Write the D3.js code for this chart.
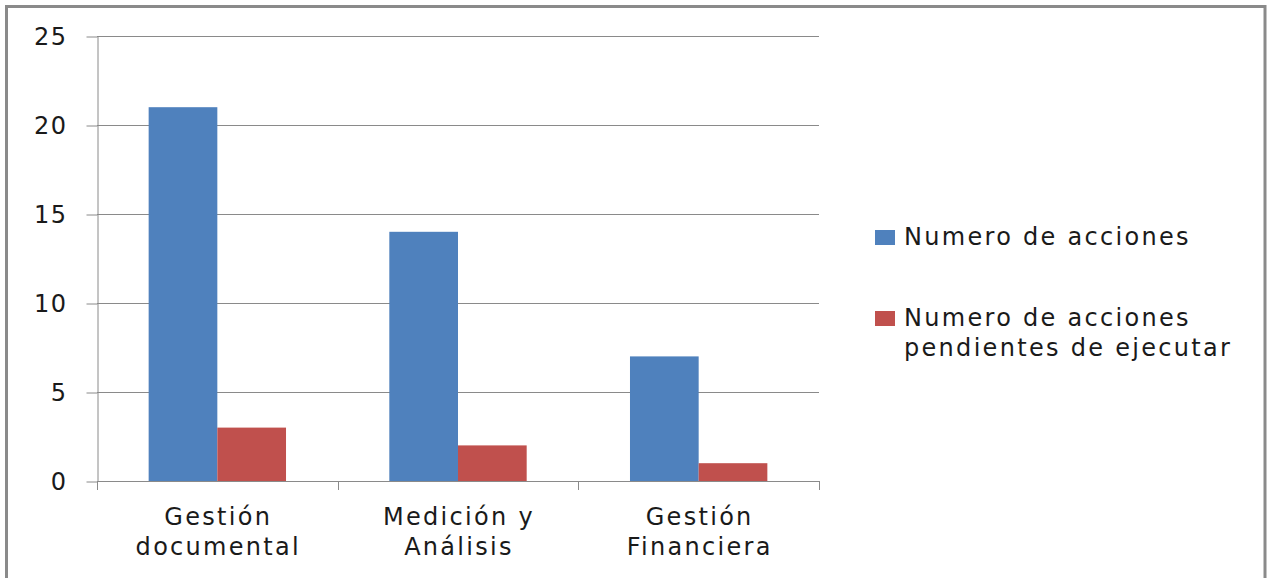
<!DOCTYPE html>
<html>
<head>
<meta charset="utf-8">
<script src="https://cdn.jsdelivr.net/npm/d3@7"></script>
<style>
  html, body { margin: 0; padding: 0; background: #fff; }
  svg { display: block; }
  text { font-family: "DejaVu Sans", sans-serif; fill: #1a1a1a; }
</style>
</head>
<body>
<script>
// Categories and series
const categories = [["Gestión", "documental"], ["Medición y", "Análisis"], ["Gestión", "Financiera"]];
const seriesNames = [["Numero de acciones"], ["Numero de acciones", "pendientes de ejecutar"]];
const seriesColors = ["#4F81BD", "#C0504D"];
const totalActions = [21, 14, 7];
const pendingActions = [3, 2, 1];
const yTicks = [0, 5, 10, 15, 20, 25];

const W = 1268, H = 578;
const svg = d3.select("body").append("svg").attr("width", W).attr("height", H);

// Outer chart frame (bottom edge lies below the visible area)
svg.append("rect")
  .attr("x", 6.5).attr("y", 6.5)
  .attr("width", 1258.5).attr("height", 600)
  .attr("fill", "#fff").attr("stroke", "#8a8a8a").attr("stroke-width", 3);

const plot = { left: 97, right: 819, top: 36, bottom: 481 };

const x0 = d3.scaleBand()
  .domain(d3.range(categories.length))
  .range([plot.left, plot.right])
  .paddingInner(0).paddingOuter(0);

const x1 = d3.scaleBand()
  .domain([0, 1])
  .range([0, x0.bandwidth()])
  .paddingOuter(0.752)
  .paddingInner(0);

const y = d3.scaleLinear().domain([0, 25]).range([plot.bottom, plot.top]);

const gridColor = "#8a8a8a";
const labelStyle = sel => sel
  .attr("font-size", 24)
  .style("letter-spacing", "2.3px")
  .style("font-family", "'DejaVu Sans', sans-serif")
  .style("fill", "#1a1a1a");

// Horizontal gridlines
svg.append("g").selectAll("line").data(yTicks.filter(d => d > 0)).join("line")
  .attr("x1", plot.left).attr("x2", plot.right)
  .attr("y1", d => Math.round(y(d)) + 0.5).attr("y2", d => Math.round(y(d)) + 0.5)
  .attr("stroke", gridColor).attr("stroke-width", 1);

// Bars
const series = [totalActions, pendingActions];
series.forEach((vals, si) => {
  svg.append("g").selectAll("rect").data(vals).join("rect")
    .attr("x", (d, i) => x0(i) + x1(si))
    .attr("width", x1.bandwidth())
    .attr("y", d => y(d))
    .attr("height", d => y(0) - y(d))
    .attr("fill", seriesColors[si]);
});

// Y axis
const yAxis = d3.axisLeft(y).tickValues(yTicks).tickSize(11).tickPadding(19).tickSizeOuter(0);
const gy = svg.append("g").attr("transform", `translate(${plot.left + 0.5},0)`).call(yAxis);
gy.select(".domain").attr("stroke", gridColor);
gy.selectAll(".tick line").attr("stroke", gridColor).attr("transform", "translate(0,0.5)");
gy.selectAll(".tick text").call(labelStyle).style("letter-spacing", "1.5px").attr("dy", "0.36em");

// X axis with category boundary ticks
svg.append("line")
  .attr("x1", plot.left).attr("x2", plot.right)
  .attr("y1", plot.bottom + 0.5).attr("y2", plot.bottom + 0.5)
  .attr("stroke", gridColor);
const bounds = d3.range(categories.length + 1).map(i => i < categories.length ? x0(i) : plot.right);
svg.append("g").selectAll("line").data(bounds).join("line")
  .attr("x1", d => Math.round(d) + 0.5).attr("x2", d => Math.round(d) + 0.5)
  .attr("y1", plot.bottom).attr("y2", plot.bottom + 9)
  .attr("stroke", gridColor);

// Category labels
const catG = svg.append("g");
categories.forEach((lines, i) => {
  const cx = x0(i) + x0.bandwidth() / 2 + 1;
  const t = catG.append("text")
    .attr("x", cx).attr("y", 525)
    .attr("text-anchor", "middle")
    .call(labelStyle);
  lines.forEach((ln, j) => {
    t.append("tspan").attr("x", cx).attr("dy", j === 0 ? 0 : 30).text(ln);
  });
});

// Legend
const legend = svg.append("g");
const legendRows = [245, 326];
seriesNames.forEach((lines, si) => {
  const base = legendRows[si];
  legend.append("rect")
    .attr("x", 875).attr("y", base - 15)
    .attr("width", 20).attr("height", 15)
    .attr("fill", seriesColors[si]);
  const t = legend.append("text")
    .attr("x", 904).attr("y", base)
    .call(labelStyle);
  lines.forEach((ln, j) => {
    t.append("tspan").attr("x", 904).attr("dy", j === 0 ? 0 : 30).text(ln);
  });
});
</script>
</body>
</html>
